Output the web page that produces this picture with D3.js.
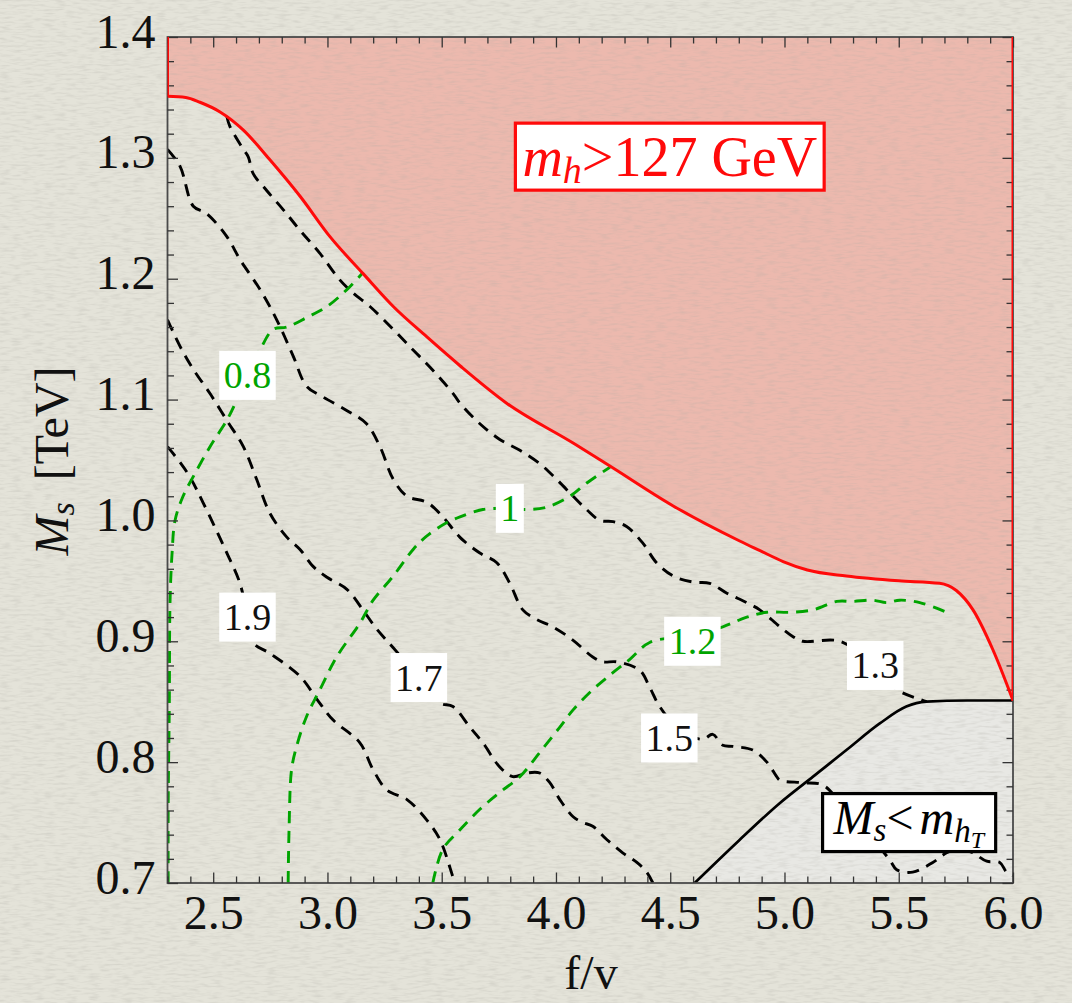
<!DOCTYPE html>
<html>
<head>
<meta charset="utf-8">
<script src="https://cdn.jsdelivr.net/npm/d3@7"></script>
<style>
  html, body { margin: 0; padding: 0; background: #e4e3d9; }
  svg { display: block; }
</style>
</head>
<body>
<svg id="chart" width="1072" height="1003"></svg>
<script>
// ---- data (f/v on x, M_s in TeV on y) ----
const xMajorTicks = [2.5, 3.0, 3.5, 4.0, 4.5, 5.0, 5.5, 6.0];
const yMajorTicks = [0.7, 0.8, 0.9, 1.0, 1.1, 1.2, 1.3, 1.4];

// m_h = 127 GeV boundary (excluded above)
const mhBoundary = [
  [2.300, 1.351], [2.380, 1.350], [2.442, 1.346], [2.530, 1.338], [2.632, 1.323],
  [2.750, 1.298], [2.881, 1.268], [3.010, 1.235], [3.157, 1.204], [3.288, 1.177],
  [3.434, 1.152], [3.580, 1.128], [3.784, 1.097], [4.075, 1.064], [4.236, 1.045],
  [4.513, 1.012], [4.804, 0.983], [4.893, 0.975], [4.994, 0.966], [5.100, 0.959],
  [5.271, 0.954], [5.500, 0.950], [5.679, 0.948], [5.752, 0.942], [5.825, 0.926],
  [5.912, 0.893], [6.000, 0.851]
];

// M_s = m_hT boundary (excluded below)
const hTBoundary = [
  [4.607, 0.700], [4.800, 0.735], [4.979, 0.766], [5.125, 0.788], [5.271, 0.810],
  [5.417, 0.832], [5.533, 0.846], [5.621, 0.850], [5.800, 0.851], [6.000, 0.851]
];

// black dashed contours
const contour13 = [
  [2.560, 1.334], [2.573, 1.326], [2.632, 1.307], [2.653, 1.301], [2.675, 1.287],
  [2.734, 1.273], [2.807, 1.257], [2.880, 1.240], [2.967, 1.221], [3.054, 1.199],
  [3.113, 1.188], [3.186, 1.177], [3.288, 1.158], [3.375, 1.141], [3.448, 1.127],
  [3.550, 1.105], [3.580, 1.097], [3.667, 1.080], [3.754, 1.067], [3.842, 1.058],
  [3.929, 1.047], [4.003, 1.034], [4.075, 1.020], [4.134, 1.009], [4.192, 1.000],
  [4.250, 0.999], [4.309, 0.995], [4.381, 0.981], [4.440, 0.965], [4.513, 0.954],
  [4.600, 0.949], [4.673, 0.948], [4.746, 0.940], [4.834, 0.932], [4.892, 0.926],
  [4.980, 0.912], [5.036, 0.904], [5.080, 0.900], [5.242, 0.900], [5.382, 0.881],
  [5.491, 0.860], [5.592, 0.852], [5.622, 0.850]
];
const contour15 = [
  [2.300, 1.307], [2.355, 1.293], [2.413, 1.260], [2.471, 1.254], [2.559, 1.235],
  [2.617, 1.216], [2.705, 1.191], [2.778, 1.166], [2.850, 1.136], [2.909, 1.111],
  [2.982, 1.102], [3.084, 1.091], [3.171, 1.080], [3.230, 1.061], [3.288, 1.034],
  [3.348, 1.020], [3.435, 1.015], [3.505, 1.003], [3.580, 0.986], [3.667, 0.973],
  [3.741, 0.965], [3.798, 0.948], [3.855, 0.926], [3.916, 0.918], [3.986, 0.912],
  [4.074, 0.901], [4.161, 0.887], [4.205, 0.883], [4.266, 0.883], [4.367, 0.876],
  [4.410, 0.862], [4.454, 0.846], [4.550, 0.825], [4.643, 0.819], [4.686, 0.823],
  [4.730, 0.814], [4.774, 0.813], [4.861, 0.810], [4.923, 0.800], [4.966, 0.788],
  [4.980, 0.785], [5.080, 0.783], [5.168, 0.781], [5.250, 0.765], [5.360, 0.742],
  [5.461, 0.719], [5.491, 0.711], [5.561, 0.709], [5.649, 0.717], [5.710, 0.725],
  [5.770, 0.728], [5.824, 0.725], [5.885, 0.718], [5.942, 0.717], [5.972, 0.709],
  [6.000, 0.706]
];
const contour17 = [
  [2.300, 1.166], [2.355, 1.144], [2.413, 1.125], [2.486, 1.105], [2.559, 1.083],
  [2.632, 1.061], [2.690, 1.034], [2.748, 1.006], [2.823, 0.986], [2.880, 0.976],
  [2.937, 0.962], [2.998, 0.953], [3.085, 0.943], [3.155, 0.926], [3.216, 0.910],
  [3.286, 0.895], [3.400, 0.870], [3.492, 0.849], [3.549, 0.846], [3.623, 0.829],
  [3.680, 0.816], [3.754, 0.796], [3.811, 0.788], [3.873, 0.791], [3.929, 0.791],
  [3.973, 0.783], [4.017, 0.769], [4.074, 0.755], [4.118, 0.750], [4.161, 0.747],
  [4.222, 0.736], [4.292, 0.725], [4.354, 0.717], [4.397, 0.709], [4.424, 0.700]
];
const contour19 = [
  [2.300, 1.061], [2.355, 1.048], [2.398, 1.036], [2.455, 1.015], [2.560, 0.973],
  [2.617, 0.948], [2.650, 0.920], [2.674, 0.899], [2.748, 0.890], [2.880, 0.871],
  [2.954, 0.852], [3.024, 0.835], [3.142, 0.816], [3.199, 0.794], [3.260, 0.777],
  [3.348, 0.769], [3.435, 0.752], [3.492, 0.736], [3.549, 0.705], [3.558, 0.700]
];

// green dashed contours
const green08 = [
  [2.303, 0.700], [2.303, 0.766], [2.308, 0.849], [2.311, 0.932], [2.320, 0.973],
  [2.333, 1.000], [2.368, 1.020], [2.412, 1.036], [2.486, 1.061], [2.560, 1.083],
  [2.604, 1.100], [2.650, 1.120], [2.705, 1.141], [2.762, 1.158], [2.823, 1.160],
  [2.910, 1.168], [2.998, 1.177], [3.085, 1.191], [3.155, 1.205]
];
const green10 = [
  [2.828, 0.700], [2.832, 0.745], [2.843, 0.794], [2.865, 0.813], [2.909, 0.838],
  [2.967, 0.860], [3.040, 0.887], [3.142, 0.915], [3.200, 0.934], [3.288, 0.954],
  [3.375, 0.976], [3.434, 0.987], [3.521, 0.998], [3.580, 1.003], [3.680, 1.009],
  [3.798, 1.010], [3.873, 1.009], [3.960, 1.011], [4.061, 1.020], [4.135, 1.031],
  [4.236, 1.044]
];
const green12 = [
  [3.461, 0.700], [3.505, 0.728], [3.580, 0.744], [3.667, 0.761], [3.754, 0.775],
  [3.842, 0.788], [3.929, 0.808], [4.017, 0.829], [4.074, 0.843], [4.161, 0.860],
  [4.249, 0.874], [4.323, 0.885], [4.410, 0.899], [4.597, 0.905], [4.730, 0.912],
  [4.835, 0.920], [4.923, 0.924], [5.023, 0.924], [5.124, 0.926], [5.229, 0.933],
  [5.299, 0.933], [5.386, 0.934], [5.447, 0.932], [5.504, 0.934], [5.592, 0.932],
  [5.710, 0.924]
];

// contour labels: text, f/v, M_s
const blackLabels = [["1.9", 2.650, 0.920], ["1.7", 3.400, 0.870], ["1.5", 4.496, 0.820], ["1.3", 5.397, 0.880]];
const greenLabels = [["0.8", 2.650, 1.120], ["1", 3.798, 1.010], ["1.2", 4.597, 0.900]];

// ---- drawing ----
const svg = d3.select("#chart");
const W = 1072, H = 1003;
const plot = { left: 167.5, right: 1013, top: 37, bottom: 883 };

const x = d3.scaleLinear().domain([2.3, 6.0]).range([plot.left, plot.right]);
const y = d3.scaleLinear().domain([0.7, 1.4]).range([plot.bottom, plot.top]);

const RED = "#ff0a0a", GREEN = "#00a400", SERIF = "Liberation Serif, Times New Roman, serif";

const defs = svg.append("defs");
defs.append("clipPath").attr("id", "plotClip")
  .append("rect").attr("x", plot.left).attr("y", plot.top)
  .attr("width", plot.right - plot.left).attr("height", plot.bottom - plot.top);

const grain = defs.append("filter").attr("id", "grain")
  .attr("x", 0).attr("y", 0).attr("width", "100%").attr("height", "100%");
grain.append("feTurbulence").attr("type", "fractalNoise")
  .attr("baseFrequency", "0.09 0.42").attr("numOctaves", 2).attr("seed", 5);
grain.append("feColorMatrix").attr("type", "matrix")
  .attr("values", "0 0 0 0 0.42  0 0 0 0 0.41  0 0 0 0 0.37  2.4 0 0 0 -1.05");

// paper background
svg.append("rect").attr("width", W).attr("height", H).attr("fill", "#e4e3d9");

const body = svg.append("g").attr("clip-path", "url(#plotClip)");

// excluded regions
body.append("path")
  .datum(mhBoundary)
  .attr("fill", "#ecb9ae")
  .attr("d", d3.area().x(d => x(d[0])).y0(y(1.4)).y1(d => y(d[1])).curve(d3.curveMonotoneX));

body.append("path")
  .datum(hTBoundary)
  .attr("fill", "#e8e8e4")
  .attr("d", d3.area().x(d => x(d[0])).y0(y(0.7)).y1(d => y(d[1])).curve(d3.curveMonotoneX));

// paper grain over the whole sheet
svg.append("rect").attr("width", W).attr("height", H)
  .attr("filter", "url(#grain)").attr("opacity", 0.26);

const body2 = svg.append("g").attr("clip-path", "url(#plotClip)");
const contourLine = d3.line().x(d => x(d[0])).y(d => y(d[1])).curve(d3.curveCatmullRom.alpha(0.5));

[contour13, contour15, contour17, contour19].forEach(c => {
  body2.append("path").datum(c)
    .attr("fill", "none").attr("stroke", "#000").attr("stroke-width", 2.9)
    .attr("stroke-dasharray", "12,8").attr("d", contourLine);
});
[green08, green10, green12].forEach(c => {
  body2.append("path").datum(c)
    .attr("fill", "none").attr("stroke", GREEN).attr("stroke-width", 2.9)
    .attr("stroke-dasharray", "12,8").attr("d", contourLine);
});

// boundary curves
const smooth = d3.line().x(d => x(d[0])).y(d => y(d[1])).curve(d3.curveMonotoneX);
body2.append("path").datum(hTBoundary)
  .attr("fill", "none").attr("stroke", "#000").attr("stroke-width", 2.7).attr("d", smooth);

// ---- frame and ticks ----
const xMinor = d3.range(23, 61).map(v => v / 10).filter(v => !xMajorTicks.some(m => Math.abs(m - v) < 1e-6));
const yMinor = d3.range(35, 71).map(v => v / 50).filter(v => !yMajorTicks.some(m => Math.abs(m - v) < 1e-6));

function styleAxis(g) {
  g.select(".domain").remove();
  g.selectAll(".tick line").attr("stroke", "#333").attr("stroke-width", 1.3);
}

svg.append("rect")
  .attr("x", plot.left).attr("y", plot.top)
  .attr("width", plot.right - plot.left).attr("height", plot.bottom - plot.top)
  .attr("fill", "none").attr("stroke", "#4a4a4a").attr("stroke-width", 1.8);

// bottom
svg.append("g").attr("transform", `translate(0,${plot.bottom})`)
  .call(d3.axisBottom(x).tickValues(xMinor).tickSize(-6.5).tickFormat(""))
  .call(styleAxis);
const xAxis = svg.append("g").attr("transform", `translate(0,${plot.bottom})`)
  .call(d3.axisBottom(x).tickValues(xMajorTicks).tickSize(-10.5).tickPadding(0).tickFormat(d3.format(".1f")))
  .call(styleAxis);
xAxis.selectAll(".tick text")
  .attr("y", 46).attr("dy", 0)
  .style("font-family", SERIF).style("font-size", "48px").attr("fill", "#111");
// top
svg.append("g").attr("transform", `translate(0,${plot.top})`)
  .call(d3.axisTop(x).tickValues(xMinor).tickSize(-6.5).tickFormat(""))
  .call(styleAxis);
svg.append("g").attr("transform", `translate(0,${plot.top})`)
  .call(d3.axisTop(x).tickValues(xMajorTicks).tickSize(-10.5).tickFormat(""))
  .call(styleAxis);
// left
svg.append("g").attr("transform", `translate(${plot.left},0)`)
  .call(d3.axisLeft(y).tickValues(yMinor).tickSize(-6.5).tickFormat(""))
  .call(styleAxis);
const yAxis = svg.append("g").attr("transform", `translate(${plot.left},0)`)
  .call(d3.axisLeft(y).tickValues(yMajorTicks).tickSize(-10.5).tickPadding(12).tickFormat(d3.format(".1f")))
  .call(styleAxis);
yAxis.selectAll(".tick text")
  .attr("dy", 0).attr("y", 10)
  .style("font-family", SERIF).style("font-size", "48px").attr("fill", "#111");
// right
svg.append("g").attr("transform", `translate(${plot.right},0)`)
  .call(d3.axisRight(y).tickValues(yMinor).tickSize(-6.5).tickFormat(""))
  .call(styleAxis);
svg.append("g").attr("transform", `translate(${plot.right},0)`)
  .call(d3.axisRight(y).tickValues(yMajorTicks).tickSize(-10.5).tickFormat(""))
  .call(styleAxis);

// m_h boundary drawn over the frame (incl. the plot edges it runs along)
const redLine = svg.append("g").attr("clip-path", "url(#plotClip)");
redLine.append("path").datum(mhBoundary)
  .attr("fill", "none").attr("stroke", RED).attr("stroke-width", 3).attr("d", smooth);
redLine.append("line")
  .attr("x1", x(2.3)).attr("x2", x(2.3)).attr("y1", y(1.4)).attr("y2", y(mhBoundary[0][1]))
  .attr("stroke", RED).attr("stroke-width", 3);
redLine.append("line")
  .attr("x1", x(6.0)).attr("x2", x(6.0)).attr("y1", y(1.4)).attr("y2", y(mhBoundary[mhBoundary.length - 1][1]))
  .attr("stroke", RED).attr("stroke-width", 3);

// ---- contour labels ----
function contourLabel(txt, fx, ms, color) {
  const g = svg.append("g").attr("transform", `translate(${x(fx)},${y(ms)})`);
  const rect = g.append("rect").attr("fill", "#fff");
  const t = g.append("text")
    .attr("text-anchor", "middle").attr("y", 13)
    .style("font-family", SERIF).style("font-size", "38px").attr("fill", color)
    .text(txt);
  const w = t.node().getComputedTextLength() + 9;
  rect.attr("x", -w / 2).attr("y", -24.5).attr("width", w).attr("height", 49);
}
blackLabels.forEach(d => contourLabel(d[0], d[1], d[2], "#111"));
greenLabels.forEach(d => contourLabel(d[0], d[1], d[2], GREEN));

// ---- region labels ----
function regionLabel(fx, ms, stroke, build, padX, h, base) {
  const g = svg.append("g").attr("transform", `translate(${x(fx)},${y(ms)})`);
  const rect = g.append("rect").attr("fill", "#fff").attr("stroke", stroke).attr("stroke-width", 3.2);
  const t = g.append("text").attr("text-anchor", "middle").attr("y", base)
    .style("font-family", SERIF);
  build(t);
  const bb = t.node().getBBox();
  const w = bb.width + 2 * padX;
  rect.attr("x", bb.x - padX).attr("y", -h / 2).attr("width", w).attr("height", h);
}

regionLabel(4.498, 1.301, RED, t => {
  t.attr("fill", RED).style("font-size", "56px");
  t.append("tspan").style("font-style", "italic").text("m");
  t.append("tspan").style("font-style", "italic").style("font-size", "38px").attr("dy", 7).text("h");
  t.append("tspan").attr("dy", -7).text(">127 GeV");
}, 7, 67, 19);

regionLabel(5.544, 0.750, "#000", t => {
  t.attr("fill", "#000").style("font-size", "48px");
  t.append("tspan").style("font-style", "italic").text("M");
  t.append("tspan").style("font-style", "italic").style("font-size", "33px").attr("dy", 7).text("s");
  t.append("tspan").attr("dy", -7).text("<");
  t.append("tspan").style("font-style", "italic").attr("dx", 6).text("m");
  t.append("tspan").style("font-style", "italic").style("font-size", "33px").attr("dy", 8).text("h");
  t.append("tspan").style("font-style", "italic").style("font-size", "24px").attr("dy", 6).text("T");
}, 10, 58, 11);

// ---- axis titles ----
svg.append("text")
  .attr("x", 591).attr("y", 989).attr("text-anchor", "middle")
  .style("font-family", SERIF).style("font-size", "48px").attr("fill", "#111")
  .text("f/v");

const yt = svg.append("text")
  .attr("transform", "translate(68,461) rotate(-90)")
  .attr("text-anchor", "middle")
  .style("font-family", SERIF).style("font-size", "48px").attr("fill", "#111");
yt.append("tspan").style("font-style", "italic").text("M");
yt.append("tspan").style("font-style", "italic").style("font-size", "34px").attr("dy", 6).text("s");
yt.append("tspan").attr("dy", -6).attr("dx", 10).text(" [TeV]");
</script>
</body>
</html>
